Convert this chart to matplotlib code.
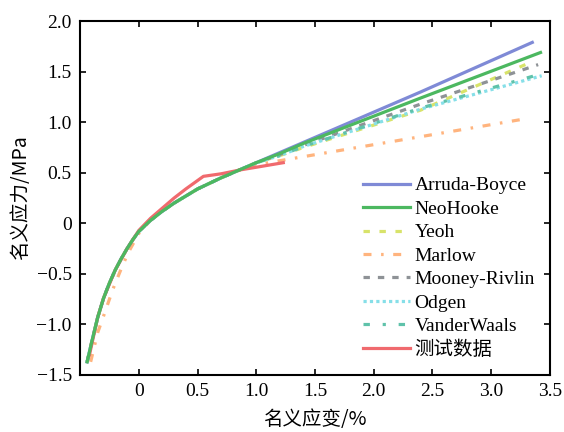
import matplotlib
matplotlib.use("Agg")
import matplotlib.pyplot as plt

plt.rcParams['font.family'] = ['Liberation Serif', 'Noto Sans CJK SC']

# ---- data ----
base_x = [-0.44, -0.40, -0.35, -0.30, -0.25, -0.20, -0.15, -0.10, -0.05, 0.0,
          0.1, 0.2, 0.3, 0.4, 0.5, 0.6, 0.7, 0.8, 0.9, 1.0]
base_y = [-1.37, -1.17, -0.93, -0.74, -0.59, -0.46, -0.35, -0.25, -0.16, -0.08,
          0.03, 0.12, 0.20, 0.27, 0.34, 0.395, 0.45, 0.50, 0.55, 0.60]

arruda_x = base_x + [1.2, 1.4, 2.4, 3.35]
arruda_y = base_y + [0.70, 0.80, 1.30, 1.79]
neo_x = base_x + [1.2, 1.4, 2.4, 3.42]
neo_y = base_y + [0.69, 0.79, 1.24, 1.69]
yeoh_x = base_x + [1.2, 1.4, 2.4, 3.35]
yeoh_y = base_y + [0.67, 0.75, 1.12, 1.60]
mooney_x = base_x + [1.2, 1.4, 2.4, 3.40]
mooney_y = base_y + [0.68, 0.77, 1.18, 1.57]
odgen_x = base_x + [1.2, 1.4, 2.4, 3.43]
odgen_y = base_y + [0.67, 0.76, 1.13, 1.46]
vdw_x = base_x + [1.2, 1.4, 2.4, 3.43]
vdw_y = base_y + [0.67, 0.76, 1.14, 1.48]

marlow_x = [-0.41, -0.35, -0.31, -0.25, -0.22, -0.15, -0.09, 0.0,
            0.1, 0.2, 0.3, 0.4, 0.5, 0.6, 0.7, 0.8, 0.9, 1.0, 3.27]
marlow_y = [-1.37, -1.08, -0.95, -0.75, -0.65, -0.45, -0.29, -0.10,
            0.03, 0.12, 0.20, 0.27, 0.34, 0.395, 0.45, 0.50, 0.55, 0.58, 1.03]

test_x = [-0.42, -0.35, -0.30, -0.20, -0.10, 0.0, 0.1, 0.2, 0.3, 0.4, 0.55, 0.7, 0.87, 1.0, 1.23]
test_y = [-1.30, -0.93, -0.74, -0.46, -0.25, -0.07, 0.05, 0.15, 0.25, 0.34, 0.465, 0.49, 0.53, 0.555, 0.60]

xticks = [0, 0.5, 1.0, 1.5, 2.0, 2.5, 3.0, 3.5]
xticklabels = ['0', '0.5', '1.0', '1.5', '2.0', '2.5', '3.0', '3.5']
yticks = [-1.5, -1.0, -0.5, 0, 0.5, 1.0, 1.5, 2.0]
yticklabels = ['\u22121.5', '\u22121.0', '\u22120.5', '0', '0.5', '1.0', '1.5', '2.0']

fig = plt.figure(figsize=(5.64, 4.32), dpi=100)
ax = fig.add_axes([0.142, 0.132, 0.833, 0.819])

lw = 2.3
ax.plot(arruda_x, arruda_y, color='#7f8ad6', lw=lw, label='Arruda-Boyce', zorder=3)
ax.plot(neo_x, neo_y, color='#4cb860', lw=lw, label='NeoHooke', zorder=6)
ax.plot(yeoh_x, yeoh_y, color='#d8e36a', lw=lw, ls=(0, (2, 3)), label='Yeoh', zorder=4)
ax.plot(marlow_x, marlow_y, color='#ffb47e', lw=lw, ls=(0, (2.5, 3, 0.8, 3)), label='Marlow', zorder=2)
ax.plot(mooney_x, mooney_y, color='#8e9296', lw=lw, ls=(0, (2, 2.5)), label='Mooney-Rivlin', zorder=4)
ax.plot(odgen_x, odgen_y, color='#86dfe8', lw=lw, ls=(0, (1, 1)), label='Odgen', zorder=4)
ax.plot(vdw_x, vdw_y, color='#5fc2aa', lw=lw, ls=(0, (2, 4, 1, 4)), label='VanderWaals', zorder=5)
ax.plot(test_x, test_y, color='#f06a6e', lw=lw, label='测试数据', zorder=5)

ax.set_xlim(-0.5, 3.5)
ax.set_ylim(-1.5, 2.0)
ax.set_xticks(xticks)
ax.set_xticklabels(xticklabels)
ax.set_yticks(yticks)
ax.set_yticklabels(yticklabels)
ax.tick_params(direction='in', top=True, right=True, length=4, width=1.2,
               labelsize=14, pad=6)
for s in ax.spines.values():
    s.set_linewidth(1.5)

ax.set_xlabel('名义应变/%', fontsize=14, family=['Noto Sans CJK SC', 'Liberation Serif'], labelpad=6)
ax.set_ylabel('名义应力/MPa', fontsize=14, family=['Noto Sans CJK SC', 'Liberation Serif'], labelpad=4)

leg = ax.legend(loc='upper left', bbox_to_anchor=(0.586, 0.582), frameon=False,
                handlelength=2.4, handletextpad=0.25, labelspacing=0.3,
                borderaxespad=0, prop={'family': ['Liberation Serif', 'Noto Sans CJK SC'], 'size': 14})

fig.savefig('out.png', dpi=100)
